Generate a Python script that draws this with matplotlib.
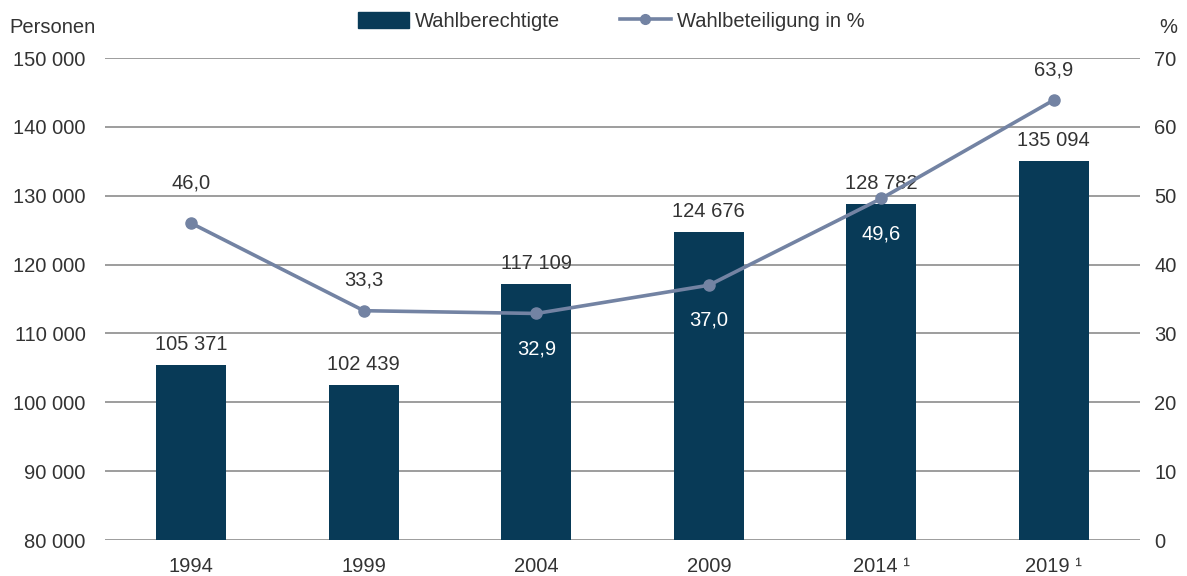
import matplotlib.pyplot as plt
from matplotlib.lines import Line2D
from matplotlib.patches import Patch

plt.rcParams['font.family'] = ['Liberation Sans', 'DejaVu Sans']

years = ['1994', '1999', '2004', '2009', '2014 ¹', '2019 ¹']
eligible = [105371, 102439, 117109, 124676, 128782, 135094]
turnout = [46.0, 33.3, 32.9, 37.0, 49.6, 63.9]
# where the turnout label sits: above the point or inside the bar below it
turnout_below = [False, False, True, True, True, False]
turnout_offset = [22, 15, 19, 18, 19, 15]

bar_color = '#083a57'
line_color = '#7383a3'
text_color = '#333333'
grid_color = '#8c8c8c'
fs = 14.5


def fmt_thousands(v):
    return f'{v:,}'.replace(',', ' ')


fig = plt.figure(figsize=(11.87, 5.76), dpi=100)
ax = fig.add_axes([0.0885, 0.0625, 0.872, 0.8368])
ax2 = ax.twinx()

x = list(range(len(years)))
ax.bar(x, eligible, width=0.405, color=bar_color, zorder=2)
ax.set_xlim(-0.5, 5.5)
ax.set_ylim(80000, 150000)
ax.set_yticks(range(80000, 150001, 10000))
ax.set_yticklabels([fmt_thousands(v) for v in range(80000, 150001, 10000)])
ax.set_xticks(x)
ax.set_xticklabels(years)
ax.grid(axis='y', color=grid_color, linewidth=1.2, zorder=0)
ax.set_axisbelow(True)

for xi, v in zip(x, eligible):
    ax.annotate(fmt_thousands(v), (xi, v), xytext=(0, 8), textcoords='offset points',
                ha='center', va='bottom', fontsize=fs, color=text_color)

ax2.plot(x, turnout, color=line_color, linewidth=2.6, marker='o', markersize=8, zorder=3)
ax2.set_ylim(0, 70)
ax2.set_yticks(range(0, 71, 10))

for xi, v, below, off in zip(x, turnout, turnout_below, turnout_offset):
    label = f'{v:.1f}'.replace('.', ',')
    if below:
        ax2.annotate(label, (xi, v), xytext=(0, -off), textcoords='offset points',
                     ha='center', va='top', fontsize=fs, color='white')
    else:
        ax2.annotate(label, (xi, v), xytext=(0, off), textcoords='offset points',
                     ha='center', va='bottom', fontsize=fs, color=text_color)

for a in (ax, ax2):
    for s in a.spines.values():
        s.set_visible(False)
    a.tick_params(length=0, labelsize=fs, labelcolor=text_color)
ax.tick_params(axis='x', pad=12)
ax.tick_params(axis='y', pad=14)
ax2.tick_params(axis='y', pad=10)
ax.set_zorder(1)
ax2.set_zorder(2)

fig.text(0.008, 0.953, 'Personen', fontsize=fs, color=text_color, ha='left', va='center')
fig.text(0.992, 0.953, '%', fontsize=fs, color=text_color, ha='right', va='center')

handles = [Patch(color=bar_color),
           Line2D([], [], color=line_color, linewidth=2.6, marker='o', markersize=7)]
fig.legend(handles, ['Wahlberechtigte', 'Wahlbeteiligung in %'], loc='center',
           bbox_to_anchor=(0.515, 0.963), ncol=2, frameon=False, fontsize=fs,
           handlelength=2.5, handleheight=0.8, handletextpad=0.3, columnspacing=3.0,
           labelcolor=text_color)

fig.savefig('out.png', dpi=100)
